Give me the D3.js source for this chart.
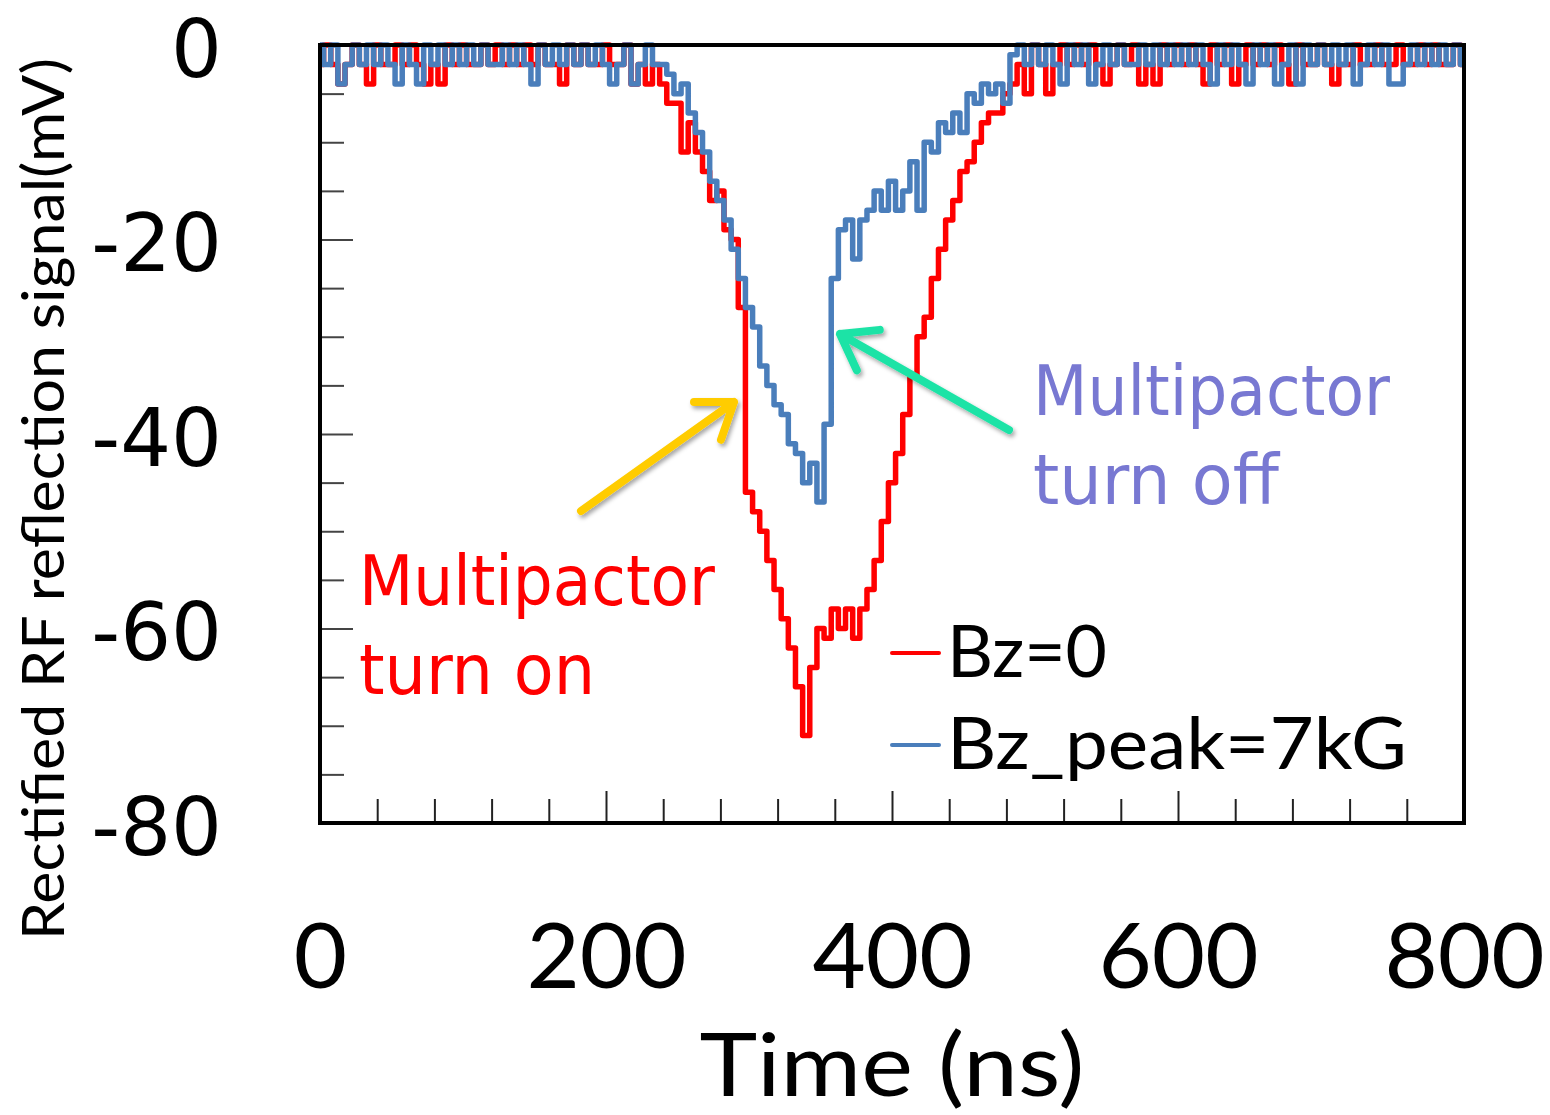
<!DOCTYPE html>
<html>
<head>
<meta charset="utf-8">
<script src="https://cdn.jsdelivr.net/npm/d3@7"></script>
<style>
  body { margin: 0; background: #fff; }
</style>
</head>
<body>
<div id="chart"></div>
<script>
// sample spacing of the scope trace (ns)
const timeStep = 5;

// Bz = 0 trace (mV), one value every 5 ns from 0 to 800 ns
const redValues = [
  -2, 0, -2, -4, -2, 0, -2, -4, 0, -2,
  -2, 0, -2, 0, -2, -4, -2, -4, 0, -2,
  0, -2, -2, 0, -2, 0, -2, 0, -2, 0,
  -2, 0, -2, -2, -4, 0, -2, 0, -2, -2,
  0, -2, -2, 0, -4, -2, -4, -2, -4, -6,
  -6, -11, -8, -11, -13, -16, -15, -19, -20, -27,
  -46, -48, -50, -53, -56, -59, -62, -66, -71, -64,
  -60, -61, -58, -60, -58, -61, -58, -56, -53, -49,
  -45, -42, -38, -34, -30, -28, -24, -21, -18, -16,
  -13, -12, -10, -8, -7, -7, -5, -4, -2, -5,
  0, -2, -5, -2, 0, -2, 0, -2, 0, -2,
  -4, -2, 0, -2, 0, -4, -2, -4, 0, -2,
  0, -2, 0, -2, -4, 0, -2, 0, -4, -2,
  0, -2, 0, -2, 0, -2, -4, 0, -2, -2,
  0, -2, -4, -2, -2, 0, -2, -2, 0, -2,
  -2, 0, -2, -2, 0, -2, 0, -2, -2, 0,
  -2
];

// Bz_peak = 7 kG trace (mV)
const blueValues = [
  0, -2, 0, -4, -2, 0, -2, 0, -2, 0,
  -2, -4, 0, -2, -4, 0, -2, 0, -2, 0,
  -2, 0, -2, 0, -2, -2, 0, -2, 0, -2,
  -4, 0, -2, 0, -2, 0, -2, 0, -2, 0,
  -2, -4, -2, 0, -4, -2, 0, -2, -2, -3,
  -5, -4, -7, -9, -11, -14, -16, -18, -21, -24,
  -27, -29, -33, -35, -37, -38, -41, -42, -45, -43,
  -47, -39, -24, -19, -18, -22, -18, -17, -15, -17,
  -14, -17, -15, -12, -17, -10, -11, -8, -9, -7,
  -9, -5, -6, -4, -5, -4, -6, -1, 0, -2,
  0, -2, 0, -2, -4, 0, -2, 0, -4, -2,
  0, -2, 0, -2, -2, 0, -2, 0, -2, 0,
  -2, 0, -2, 0, -2, -4, 0, -2, 0, -2,
  -4, 0, -2, 0, -4, -2, 0, -4, 0, -2,
  0, -2, 0, -2, 0, -4, -2, 0, -2, 0,
  -4, -4, -2, 0, -2, 0, -2, 0, -2, 0,
  -2
];

const seriesNames = ["Bz=0", "Bz_peak=7kG"];
const seriesColors = ["#ff0000", "#4a7ebb"];

const xTickValues = [0, 200, 400, 600, 800];
const yTickValues = [0, -20, -40, -60, -80];
const yTickLabels = ["0", "-20", "-40", "-60", "-80"];

const width = 1550, height = 1115;

// plot box
const plot = { left: 320, top: 45, right: 1464, bottom: 823 };

const xScale = d3.scaleLinear().domain([0, 800]).range([plot.left, plot.right]);
const yScale = d3.scaleLinear().domain([-80, 0]).range([plot.bottom, plot.top]);

const svg = d3.select("#chart").append("svg")
  .attr("width", width)
  .attr("height", height)
  .style("background", "#fff");

// soft shadow for the annotation arrows
const defs = svg.append("defs");
defs.append("filter").attr("id", "shadow")
  .attr("x", "-20%").attr("y", "-20%").attr("width", "140%").attr("height", "140%")
  .append("feDropShadow")
  .attr("dx", 2).attr("dy", 3).attr("stdDeviation", 2)
  .attr("flood-color", "#000").attr("flood-opacity", 0.35);

// minor ticks, pointing into the box
const xMinor = d3.range(40, 800, 40);
const yMinor = d3.range(-75, 0, 5);

svg.append("g")
  .attr("transform", "translate(0," + plot.bottom + ")")
  .call(d3.axisBottom(xScale).tickValues(xMinor).tickFormat("")
    .tickSizeInner(-24).tickSizeOuter(0))
  .call(g => g.select(".domain").remove())
  .call(g => g.selectAll(".tick line")
    .attr("y2", d => d % 200 === 0 ? -32 : -24)
    .attr("stroke", "#222").attr("stroke-width", 2));

svg.append("g")
  .attr("transform", "translate(" + plot.left + ",0)")
  .call(d3.axisLeft(yScale).tickValues(yMinor).tickFormat("")
    .tickSizeInner(-24).tickSizeOuter(0))
  .call(g => g.select(".domain").remove())
  .call(g => g.selectAll(".tick line")
    .attr("x2", d => d % 20 === 0 ? 33 : 24)
    .attr("stroke", "#444").attr("stroke-width", 2));

// tick labels
svg.append("g")
  .attr("transform", "translate(0," + plot.bottom + ")")
  .call(d3.axisBottom(xScale).tickValues(xTickValues).tickSize(0))
  .call(g => g.select(".domain").remove())
  .call(g => g.selectAll("text")
    .attr("y", 165).attr("dy", null)
    .style("font-family", "Lato, 'Open Sans', sans-serif")
    .style("font-size", "92px")
    .attr("fill", "#000"));

svg.append("g")
  .attr("transform", "translate(" + plot.left + ",0)")
  .call(d3.axisLeft(yScale).tickValues(yTickValues).tickSize(0)
    .tickFormat((d, i) => yTickLabels[i]))
  .call(g => g.select(".domain").remove())
  .call(g => g.selectAll("text")
    .attr("x", -98).attr("y", 31).attr("dy", null)
    .attr("text-anchor", "end")
    .style("font-family", "'DejaVu Sans', Verdana, sans-serif")
    .style("font-size", "80px")
    .attr("fill", "#000"));

// axis titles
svg.append("text")
  .attr("x", 892).attr("y", 1096)
  .attr("text-anchor", "middle")
  .style("font-family", "Lato, sans-serif")
  .style("font-size", "88px")
  .attr("textLength", 385).attr("lengthAdjust", "spacingAndGlyphs")
  .text("Time (ns)");

svg.append("text")
  .attr("transform", "translate(64,499) rotate(-90)")
  .attr("text-anchor", "middle")
  .style("font-family", "Lato, sans-serif")
  .style("font-size", "58px")
  .attr("textLength", 882).attr("lengthAdjust", "spacingAndGlyphs")
  .text("Rectified RF reflection signal(mV)");

// traces
const line = d3.line()
  .x((d, i) => xScale(i * timeStep))
  .y(d => yScale(d))
  .curve(d3.curveStep);

[redValues, blueValues].forEach((vals, k) => {
  svg.append("path")
    .datum(vals)
    .attr("fill", "none")
    .attr("stroke", seriesColors[k])
    .attr("stroke-width", 5.5)
    .attr("stroke-linejoin", "round")
    .attr("d", line);
});

// frame
svg.append("rect")
  .attr("x", plot.left).attr("y", plot.top)
  .attr("width", plot.right - plot.left)
  .attr("height", plot.bottom - plot.top)
  .attr("fill", "none")
  .attr("stroke", "#000")
  .attr("stroke-width", 4);

// legend
const legendWidths = [160, 460];
const legend = svg.append("g");
seriesNames.forEach((name, k) => {
  const ly = 653 + k * 92;
  legend.append("line")
    .attr("x1", 892).attr("x2", 939)
    .attr("y1", ly).attr("y2", ly)
    .attr("stroke", seriesColors[k])
    .attr("stroke-width", 4)
    .attr("stroke-linecap", "round");
  legend.append("text")
    .attr("x", 947).attr("y", ly + 24)
    .style("font-family", "Lato, sans-serif")
    .style("font-size", "72px")
    .attr("textLength", legendWidths[k]).attr("lengthAdjust", "spacingAndGlyphs")
    .text(name);
});

// annotation arrows
function arrow(x1, y1, x2, y2, color) {
  const ang = Math.atan2(y2 - y1, x2 - x1);
  const len = 40, spread = 0.62;
  const a1 = ang + Math.PI - spread, a2 = ang + Math.PI + spread;
  const p = "M" + x1 + "," + y1 + "L" + x2 + "," + y2 +
    "M" + (x2 + len * Math.cos(a1)) + "," + (y2 + len * Math.sin(a1)) +
    "L" + x2 + "," + y2 +
    "L" + (x2 + len * Math.cos(a2)) + "," + (y2 + len * Math.sin(a2));
  svg.append("path")
    .attr("d", p)
    .attr("fill", "none")
    .attr("stroke", color)
    .attr("stroke-width", 8)
    .attr("stroke-linecap", "round")
    .attr("stroke-linejoin", "round")
    .attr("filter", "url(#shadow)");
}
arrow(581, 511, 734, 402, "#ffcc00");
arrow(1009, 430, 840, 334, "#1ee3a6");

// annotation text
function note(lines, widths, x, y0, color) {
  lines.forEach((t, i) => {
    svg.append("text")
      .attr("x", x).attr("y", y0 + i * 89)
      .style("font-family", "'DejaVu Sans', Verdana, sans-serif")
      .style("font-size", "70px")
      .attr("textLength", widths[i]).attr("lengthAdjust", "spacingAndGlyphs")
      .attr("fill", color)
      .text(t);
  });
}
note(["Multipactor", "turn on"], [356, 236], 359, 605, "#ff0000");
note(["Multipactor", "turn off"], [357, 246], 1033, 415, "#7878d2");
</script>
</body>
</html>
